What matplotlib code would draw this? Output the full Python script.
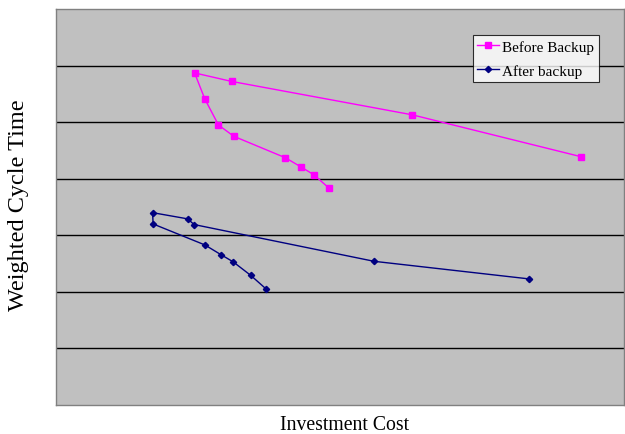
import matplotlib
matplotlib.use("Agg")
import matplotlib.pyplot as plt

# Investment cost vs. weighted cycle time (arbitrary units)
before_cost = [9.24, 6.27, 3.09, 2.44, 2.62, 2.86, 3.13, 4.04, 4.31, 4.54, 4.81]
before_wct = [4.39, 5.13, 5.72, 5.87, 5.41, 4.95, 4.75, 4.37, 4.21, 4.07, 3.83]

after_cost = [8.32, 5.60, 2.43, 2.32, 1.70, 1.71, 2.62, 2.90, 3.12, 3.43, 3.70]
after_wct = [2.23, 2.54, 3.19, 3.29, 3.40, 3.20, 2.83, 2.66, 2.53, 2.29, 2.05]

plt.rcParams["font.family"] = ["Liberation Serif", "DejaVu Serif"]

fig = plt.figure(figsize=(6.25, 4.35), dpi=100)
ax = fig.add_axes([56 / 625, 1 - 406 / 435, 568 / 625, 396 / 435])
ax.set_facecolor("#C0C0C0")

ax.plot(before_cost, before_wct, color="#FF00FF", lw=1, marker="s",
        ms=4.2, label="Before Backup")
ax.plot(after_cost, after_wct, color="#000080", lw=1, marker="D",
        ms=3.2, label="After backup")

ax.set_xlim(0, 10)
ax.set_ylim(0, 7)
ax.set_yticks(range(1, 7))
ax.set_xticks([])
ax.yaxis.grid(True, color="black", lw=1)
ax.set_axisbelow(True)
ax.tick_params(axis="y", length=0, labelleft=False)
for s in ax.spines.values():
    s.set_color("#808080")
    s.set_linewidth(1)

fig.text(19 / 625, 1 - 205 / 435, "Weighted Cycle Time", rotation=90,
         ha="center", va="center", fontsize=17.5)
fig.text(345 / 625, 1 - 426 / 435, "Investment Cost", ha="center",
         va="center", fontsize=14.2)

leg = ax.legend(loc="upper right", bbox_to_anchor=(0.956, 0.935),
                fontsize=11, frameon=True, fancybox=False,
                handlelength=1.4, handleheight=1.0, borderpad=0.3,
                labelspacing=0.55, handletextpad=0.25, borderaxespad=0)
leg.get_frame().set_edgecolor("black")
leg.get_frame().set_facecolor("white")
leg.get_frame().set_linewidth(0.8)

fig.savefig("out.png", dpi=100)
